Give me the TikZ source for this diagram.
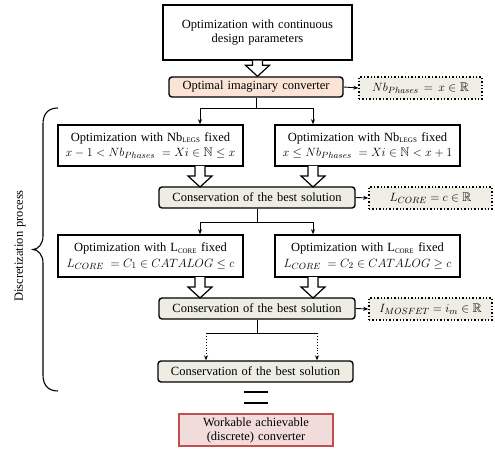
\documentclass[tikz,border=0pt]{standalone}
\usepackage{amsmath,amssymb}
\usepackage{fontspec}
\setmainfont{Liberation Serif}[WordSpace={1.3,1,1}]
\usetikzlibrary{arrows.meta,calc}
\definecolor{peach}{HTML}{FBE4D5}
\definecolor{consfill}{HTML}{EDEDE3}
\definecolor{dotfill}{HTML}{EEEEE4}
\definecolor{workfill}{HTML}{F2DCDB}
\definecolor{workdraw}{HTML}{C0504D}
\newcommand{\hollowdown}[2]{%
  \draw[hollow] let \p1=(#1), \p2=(#2) in
   (\x1-5,\y1) -- (\x1-5,\y2+11) -- (\x1-12,\y2+11) -- (\x1,\y2)
   -- (\x1+12,\y2+11) -- (\x1+5,\y2+11) -- (\x1+5,\y1);}
\tikzset{
  box/.style={draw=black, line width=1.5pt, fill=white, minimum width=#1, inner sep=0pt, align=center, font=\fontsize{12.5}{14}\selectfont},
  box/.default=185pt,
  optbox/.style={draw=black, line width=1.4pt, fill=peach, rounded corners=3pt, minimum width=174pt, minimum height=20pt, inner sep=0pt, font=\fontsize{12.5}{14}\selectfont},
  consbox/.style={draw=black, line width=1.4pt, fill=consfill, rounded corners=3pt, minimum width=196pt, minimum height=21pt, inner sep=0pt, font=\fontsize{12.5}{14}\selectfont},
  dotbox/.style={draw=black, line width=1.4pt, dotted, fill=dotfill, minimum width=123pt, minimum height=22pt, inner sep=0pt, font=\fontsize{12.5}{14}\selectfont},
  workbox/.style={draw=workdraw, line width=1.2pt, fill=workfill, minimum width=154pt, minimum height=32pt, inner sep=0pt, align=center, font=\fontsize{12.5}{14}\selectfont},
  conn/.style={line width=0.9pt, -{Stealth[length=5pt,width=4pt]}},
  line/.style={line width=0.9pt},
  dotconn/.style={line width=0.9pt, dotted, -{Stealth[length=5pt,width=4pt]}},
  hollow/.style={draw=black, line width=1.2pt, fill=white, line join=miter},
}
\begin{document}
\begin{tikzpicture}[x=1pt,y=1pt]
\useasboundingbox (0,0) rectangle (495,-449);
% main column
\node[box=189pt, minimum height=55pt] (top) at (257.5,-32.5) {Optimization with continuous\\design parameters};
\node[optbox] (opt) at (256,-87) {Optimal imaginary converter};
\node[dotbox] (nb) at (420.5,-88) {$Nb_{Phases}\,=\,x\in\mathbb{R}$};

\node[box, minimum height=41pt] (l1) at (150.5,-145.5) {Optimization with Nb$_{\text{\scriptsize LEGS}}$ fixed\\[1.5pt]$x-1<Nb_{Phases}\;=Xi\in\mathbb{N}\le x$};
\node[box, minimum height=41pt] (r1) at (367.5,-145.5) {Optimization with Nb$_{\text{\scriptsize LEGS}}$ fixed\\[1.5pt]$x\le Nb_{Phases}\;=Xi\in\mathbb{N}<x+1$};

\node[consbox] (c1) at (257,-197.5) {Conservation of the best solution};
\node[dotbox] (lc) at (430.5,-198) {$L_{CORE}=c\in\mathbb{R}$};

\node[box, minimum height=42pt] (l2) at (150.5,-256) {Optimization with L$_{\text{\scriptsize CORE}}$ fixed\\[1.5pt]$L_{CORE}\;=C_1\in CATALOG\le c$};
\node[box, minimum height=42pt] (r2) at (367.5,-256) {Optimization with L$_{\text{\scriptsize CORE}}$ fixed\\[1.5pt]$L_{CORE}\;=C_2\in CATALOG\ge c$};

\node[consbox] (c2) at (257,-308.5) {Conservation of the best solution};
\node[dotbox] (im) at (430.5,-309) {$I_{MOSFET}=i_m\in\mathbb{R}$};

\node[consbox, minimum width=195pt] (c3) at (255.5,-371.5) {Conservation of the best solution};

\node[workbox] (work) at (256,-430) {Workable achievable\\(discrete) converter};

% equals sign
\coordinate (eqa) at (244,-392);
\coordinate (eqb) at (268,-392);
\coordinate (eqc) at (244,-403);
\coordinate (eqd) at (268,-403);
\draw[line width=2.2pt] (eqa) -- (eqb);
\draw[line width=2.2pt] (eqc) -- (eqd);

% hollow arrows
\hollowdown{top.south}{opt.north}
\coordinate (l1x) at (200,-166);
\coordinate (r1x) at (313,-166);
\coordinate (c1l) at (200,-187);
\coordinate (c1r) at (313,-187);
\hollowdown{l1x}{c1l}
\hollowdown{r1x}{c1r}
\coordinate (l2x) at (200,-277);
\coordinate (r2x) at (313,-277);
\coordinate (c2l) at (200,-298);
\coordinate (c2r) at (313,-298);
\hollowdown{l2x}{c2l}
\hollowdown{r2x}{c2r}

% side arrows
\draw[conn] (opt.east) -- (nb.west);
\draw[conn] (c1.east) -- (lc.west);
\draw[conn] (c2.east) -- (im.west);

% branches
\coordinate (b1) at (256,-108);
\coordinate (b1l) at (200,-108);
\coordinate (b1r) at (313,-108);
\draw[line] (opt.south) -- (b1);
\draw[conn] (b1) -- (b1l) -- (l1.north -| b1l);
\draw[conn] (b1) -- (b1r) -- (r1.north -| b1r);

\coordinate (b2) at (257,-222);
\coordinate (b2l) at (200,-222);
\coordinate (b2r) at (313,-222);
\draw[line] (c1.south) -- (b2);
\draw[conn] (b2) -- (b2l) -- (l2.north -| b2l);
\draw[conn] (b2) -- (b2r) -- (r2.north -| b2r);

\coordinate (b3) at (257,-333);
\coordinate (b3l) at (206,-333);
\coordinate (b3r) at (317,-333);
\draw[line] (c2.south -| b3) -- (b3);
\draw[line] (b3l) -- (b3r);
\draw[dotconn] (b3l) -- (c3.north -| b3l);
\draw[dotconn] (b3r) -- (c3.north -| b3r);

% brace
\coordinate (brt) at (58,-108);
\coordinate (brb) at (58,-391);
\coordinate (brm) at (33,-249.5);
\draw[line width=1.1pt] (brt) .. controls (48,-108) and (43,-114) .. (43,-124)
  -- (43,-236) .. controls (43,-244) and (38,-249.5) .. (brm)
  .. controls (38,-249.5) and (43,-255) .. (43,-263)
  -- (43,-375) .. controls (43,-385) and (48,-391) .. (brb);
\node[rotate=90, font=\fontsize{12.5}{14}\selectfont] (disc) at (20,-246) {Discretization process};
\end{tikzpicture}
\end{document}
